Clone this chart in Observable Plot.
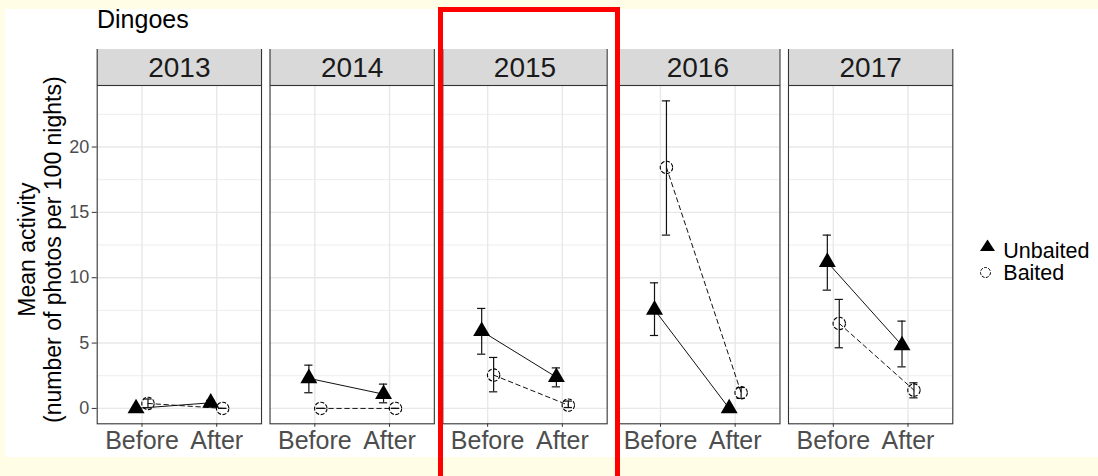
<!DOCTYPE html>
<html><head><meta charset="utf-8">
<script src="https://cdn.jsdelivr.net/npm/d3@7"></script>
<script src="https://cdn.jsdelivr.net/npm/@observablehq/plot@0.6"></script>
<style>
html,body{margin:0;padding:0;}
body{width:1098px;height:476px;background:#fffde6;position:relative;overflow:hidden;font-family:"Liberation Sans",Arial,sans-serif;}
#white{position:absolute;left:5px;top:9px;width:1093px;height:448px;background:#fff;}
#chart{position:absolute;left:0;top:0;}
#title{position:absolute;left:97px;top:6.5px;font-size:25px;line-height:25px;color:#000;white-space:nowrap;}
#legend{position:absolute;left:970px;top:230px;}
#redbox{position:absolute;left:438.3px;top:6.7px;width:181.7px;height:480px;border:5.7px solid #ff0000;box-sizing:border-box;}
</style></head>
<body>
<div id="white"></div>
<div id="chart"></div>
<div id="title">Dingoes</div>
<svg id="legend" width="128" height="60" style="font-family:'Liberation Sans',Arial,sans-serif">
  <path d="M17.5,9.5L25,21L10,21Z" fill="#000"/>
  <circle cx="15.5" cy="42.5" r="5" fill="none" stroke="#000" stroke-width="1" stroke-dasharray="3,1.3"/>
  <text x="33.3" y="28.3" font-size="21.5" fill="#000">Unbaited</text>
  <text x="33.3" y="50.3" font-size="21.5" fill="#000">Baited</text>
</svg>
<div id="redbox"></div>
<script>
const years = ["2013","2014","2015","2016","2017"];
const periods = ["Before","After"];
const groups = ["Unbaited","Baited"];
// [Before, After] per year
const unbaitedMean = [[0,0.43],[2.3,1.09],[5.91,2.39],[7.55,0],[11.19,4.82]];
const unbaitedLow  = [[0,0.25],[1.2,0.43],[4.15,1.65],[5.58,0],[9.05,3.18]];
const unbaitedHigh = [[0,0.62],[3.31,1.86],[7.65,3.1],[9.61,0],[13.26,6.68]];
const baitedMean = [[0.38,0],[0,0],[2.55,0.25],[18.44,1.2],[6.5,1.4]];
const baitedLow  = [[0.05,0],[0,0],[1.27,0.07],[13.26,0.77],[4.64,0.81]];
const baitedHigh = [[0.72,0],[0,0],[3.9,0.56],[23.53,1.6],[8.34,1.96]];
const yTicks = [0,5,10,15,20];
const yMinor = [2.5,7.5,12.5,17.5,22.5];

const dodge = {Unbaited: -0.08, Baited: 0.08};
const rows = [];
years.forEach((yr, i) => {
  periods.forEach((p, j) => {
    rows.push({year: yr, period: p, group: "Unbaited", x: j + 1 + dodge.Unbaited,
      mean: unbaitedMean[i][j], lo: unbaitedLow[i][j], hi: unbaitedHigh[i][j]});
    rows.push({year: yr, period: p, group: "Baited", x: j + 1 + dodge.Baited,
      mean: baitedMean[i][j], lo: baitedLow[i][j], hi: baitedHigh[i][j]});
  });
});
const unb = rows.filter(d => d.group === "Unbaited");
const bai = rows.filter(d => d.group === "Baited");

// ggplot-like 5% expansion
const dMin = Math.min(0, d3.min(rows, d => d.lo));
const dMax = d3.max(rows, d => d.hi);
const pad = (dMax - dMin) * 0.05;
const yDom = [dMin - pad, dMax + pad];

const W = 1098, H = 476, mt = 85, mb = 52.7, ml = 96.7, mr = 145.7;
const pxPerUnit = (H - mt - mb) / (yDom[1] - yDom[0]);
const stripTop = yDom[1] + 36 / pxPerUnit;
const xDom = [0.4, 2.6];
const font = "'Liberation Sans', Arial, sans-serif";

const chart = Plot.plot({
  width: W, height: H,
  marginTop: mt, marginBottom: mb, marginLeft: ml, marginRight: mr,
  style: {fontFamily: font, background: "transparent", overflow: "visible"},
  fx: {domain: years, paddingInner: 0.0492, paddingOuter: 0, axis: null, label: null, round: false},
  x: {domain: xDom, axis: null},
  y: {domain: yDom, axis: null},
  marks: [
    Plot.gridY(yMinor, {stroke: "#ededed", strokeOpacity: 1, strokeWidth: 1}),
    Plot.gridY(yTicks, {stroke: "#e8e8e8", strokeOpacity: 1, strokeWidth: 1.4}),
    Plot.gridX([1, 2], {stroke: "#e8e8e8", strokeOpacity: 1, strokeWidth: 1.4}),
    Plot.rect(years, {fx: d => d, x1: () => xDom[0], x2: () => xDom[1], y1: () => yDom[1], y2: () => stripTop, fill: "#d9d9d9"}),
    Plot.ruleX(xDom, {x: d => d, y1: () => yDom[1], y2: () => stripTop, stroke: "#333", strokeWidth: 1.1}),
    Plot.frame({stroke: "#333", strokeWidth: 1.1}),
    Plot.text(years, {fx: d => d, text: d => d, frameAnchor: "top", lineAnchor: "middle", dy: -17.3, fontSize: 28, fill: "#1a1a1a"}),
    Plot.line(unb, {fx: "year", x: "x", y: "mean", stroke: "#111", strokeWidth: 1}),
    Plot.line(bai, {fx: "year", x: "x", y: "mean", stroke: "#111", strokeWidth: 1, strokeDasharray: "4.5,3.5"}),
    Plot.ruleX(rows, {fx: "year", x: "x", y1: "lo", y2: "hi", stroke: "#111", strokeWidth: 1.2}),
    Plot.ruleY(rows, {fx: "year", y: "lo", x1: d => d.x - 0.055, x2: d => d.x + 0.055, stroke: "#111", strokeWidth: 1.2}),
    Plot.ruleY(rows, {fx: "year", y: "hi", x1: d => d.x - 0.055, x2: d => d.x + 0.055, stroke: "#111", strokeWidth: 1.2}),
    Plot.dot(unb, {fx: "year", x: "x", y: "mean", symbol: "triangle", r: 6.3, fill: "#000", stroke: "none"}),
    Plot.dot(bai, {fx: "year", x: "x", y: "mean", symbol: "circle", r: 6.2, fill: "none", stroke: "#000", strokeWidth: 1.1, strokeDasharray: "4,1.6"}),
    Plot.axisY(yTicks, {tickSize: 5, tickPadding: 3, fontSize: 18, fill: "#4d4d4d", stroke: "#333", label: null, facetAnchor: "left"}),
    Plot.axisX([1, 2], {tickSize: 3.5, tickPadding: 4, fontSize: 25, fill: "#4d4d4d", stroke: "#333", label: null, tickFormat: d => periods[d - 1]}),
    Plot.text(["Mean activity\n(number of photos per 100 nights)"], {fx: ["2013"], text: d => d, frameAnchor: "left", rotate: -90, dx: -57.2, dy: -5, fontSize: 23, lineHeight: 1.087, fill: "#000", textAnchor: "middle"})
  ]
});
document.getElementById("chart").appendChild(chart);
</script>
</body></html>
